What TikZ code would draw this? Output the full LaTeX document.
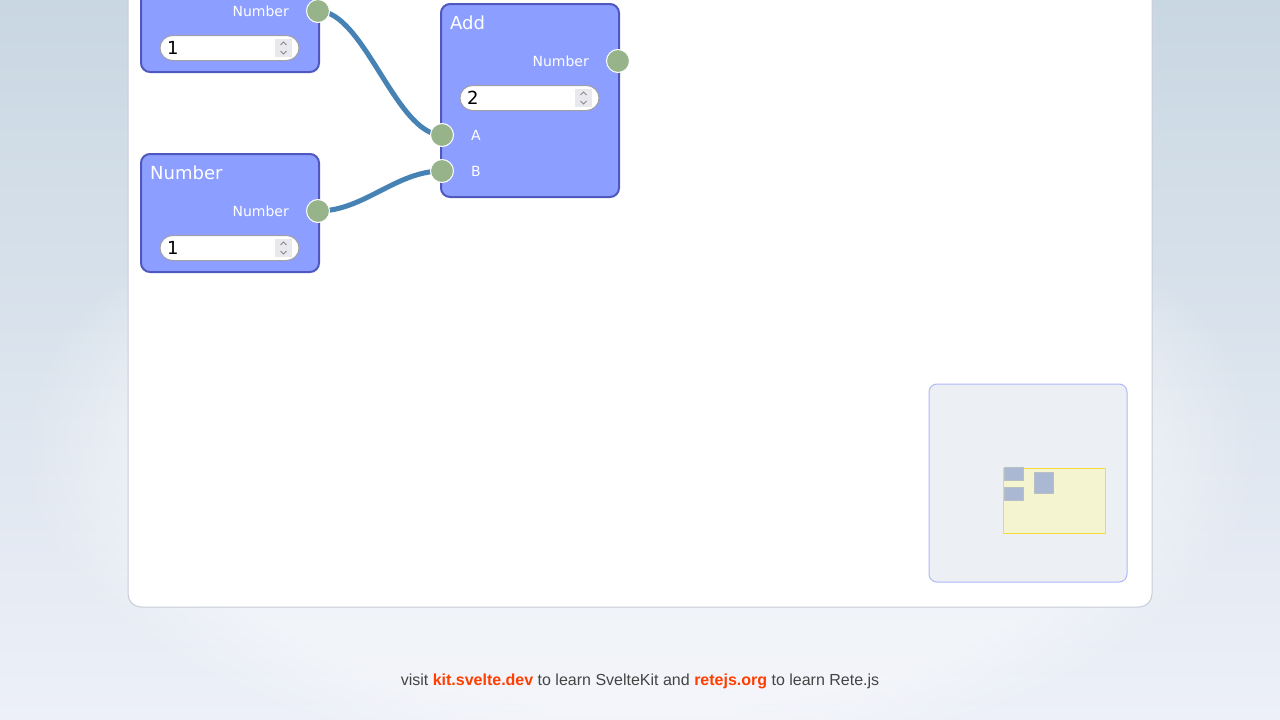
\documentclass[tikz,border=0pt]{standalone}
\usepackage{fontspec}
\setmainfont{DejaVu Sans}
\newfontfamily\footfont{Liberation Sans}
\usetikzlibrary{fadings}
\definecolor{pagetop}{HTML}{C9D7E2}
\definecolor{pagemid}{HTML}{DFE5EF}
\definecolor{pagebot}{HTML}{EDF0F8}
\definecolor{paneledge}{HTML}{C8CCD8}
\definecolor{nodefill}{HTML}{8C9EFF}
\definecolor{nodeedge}{HTML}{4E58BF}
\definecolor{sockfill}{HTML}{96B38A}
\definecolor{wire}{HTML}{4682B4}
\definecolor{fieldedge}{HTML}{A0A0A8}
\definecolor{spinfill}{HTML}{E9E9ED}
\definecolor{spinmark}{HTML}{8A8A96}
\definecolor{mapfill}{HTML}{ECEFF3}
\definecolor{mapedge}{HTML}{B0B8FA}
\definecolor{viewfill}{HTML}{F4F5D0}
\definecolor{viewedge}{HTML}{F6DC3A}
\definecolor{mapnode}{HTML}{AAB8D4}
\definecolor{mapnodeedge}{HTML}{B8C0C4}
\definecolor{footgray}{HTML}{444444}
\definecolor{svelte}{HTML}{FF3E00}
\pgfdeclarelayer{bg}
\pgfdeclarelayer{wires}
\pgfsetlayers{bg,wires,main}
\tikzset{
	nodebox/.style={draw=nodeedge, fill=nodefill, line width=2pt, rounded corners=9pt},
	socket/.style={circle, draw=white, fill=sockfill, line width=1pt, minimum size=23pt, inner sep=0pt},
	wirepath/.style={draw=wire, line width=5pt},
	nodetitle/.style={anchor=west, text=white, inner sep=0pt, font=\fontsize{18}{20}\selectfont},
	socklabel/.style={text=white, inner sep=0pt, font=\fontsize{14}{16}\selectfont},
	fieldtext/.style={anchor=west, inner sep=0pt, font=\fontsize{18}{20}\selectfont},
	mapnodebox/.style={fill=mapnode, draw=mapnodeedge, line width=1pt}
}
% number input: x, y (centre line), value, name
\newcommand{\numfield}[4]{
	\draw [fill=white, draw=fieldedge, line width=1pt, rounded corners=12.5pt] (#1,#2-12.5) rectangle (#1+139,#2+12.5);
	\fill [spinfill] (#1+115,#2-9) rectangle (#1+132,#2+9);
	\draw [spinmark, line width=.8pt] (#1+120.5,#2-3) -- (#1+123.5,#2-6) -- (#1+126.5,#2-3);
	\draw [spinmark, line width=.8pt] (#1+120.5,#2+3) -- (#1+123.5,#2+6) -- (#1+126.5,#2+3);
	\node [fieldtext] (#4) at (#1+7,#2) {#3};
}
\begin{document}
\begin{tikzpicture}[x=1pt, y=-1pt]
	\useasboundingbox (0,0) rectangle (1280,720);
	\clip (0,0) rectangle (1280,720);
	\begin{pgfonlayer}{bg}
		\shade [top color=pagetop, middle color=pagemid, bottom color=pagebot] (0,0) rectangle (1280,720);
		\fill [white, opacity=.4, path fading=circle with fuzzy edge 20 percent] (640,450) ellipse (620 and 320);
		\draw [fill=white, draw=paneledge, line width=1pt, rounded corners=13pt] (128,-30) rectangle (1152,607);
	\end{pgfonlayer}

	% number node (top, cut off)
	\draw [nodebox] (141,-46) rectangle (319,72);
	\node [socklabel, anchor=east] (n1lbl) at (289,11) {Number};
	\node [socket] (n1out) at (318,11) {};
	\numfield{160}{48}{1}{n1val}

	% number node
	\draw [nodebox] (141,154) rectangle (319,272);
	\node [nodetitle] (n2title) at (150,173) {Number};
	\node [socklabel, anchor=east] (n2lbl) at (289,211) {Number};
	\node [socket] (n2out) at (318,211) {};
	\numfield{160}{248}{1}{n2val}

	% add node
	\draw [nodebox] (441,4) rectangle (619,197);
	\node [nodetitle] (addtitle) at (450,23) {Add};
	\node [socklabel, anchor=east] (addlbl) at (589,61) {Number};
	\node [socket] (addout) at (618,61) {};
	\numfield{460}{98}{2}{addval}
	\node [socket] (adda) at (442,135) {};
	\node [socket] (addb) at (442,171) {};
	\node [socklabel, anchor=west] (albl) at (471,135) {A};
	\node [socklabel, anchor=west] (blbl) at (471,171) {B};

	\begin{pgfonlayer}{wires}
		\draw [wirepath] (n1out.center) .. controls +(46,0) and +(-46,0) .. (adda.center);
		\draw [wirepath] (n2out.center) .. controls +(46,0) and +(-46,0) .. (addb.center);
	\end{pgfonlayer}

	% minimap
	\draw [fill=mapfill, draw=mapedge, line width=1pt, rounded corners=8pt] (929,384) rectangle (1127,582);
	\draw [fill=viewfill, draw=viewedge, line width=1pt] (1003.5,468.5) rectangle (1105.5,533.5);
	\draw [mapnodebox] (1004,467.5) rectangle (1023,480);
	\draw [mapnodebox] (1004,487.5) rectangle (1023,500);
	\draw [mapnodebox] (1034.5,472.5) rectangle (1053.5,493);

	\node [inner sep=0pt, text=footgray, font=\footfont\fontsize{16}{19}\selectfont] (foot) at (640,681)
		{visit \textbf{\color{svelte}kit.svelte.dev} to learn SvelteKit and \textbf{\color{svelte}retejs.org} to learn Rete.js};
\end{tikzpicture}
\end{document}
